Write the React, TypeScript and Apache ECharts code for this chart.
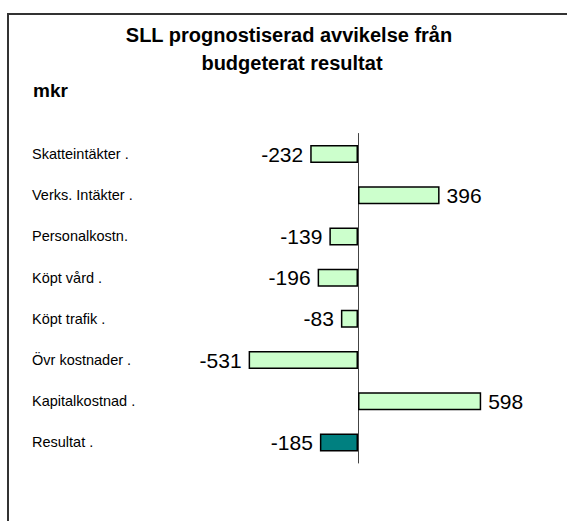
import React, { useEffect, useRef } from "react";
import * as echarts from "echarts";

const categories = [
  "Skatteintäkter .",
  "Verks. Intäkter .",
  "Personalkostn.",
  "Köpt vård .",
  "Köpt trafik .",
  "Övr kostnader .",
  "Kapitalkostnad .",
  "Resultat .",
];
const values = [-232, 396, -139, -196, -83, -531, 598, -185];
const titleLines = ["SLL prognostiserad avvikelse från", "budgeterat resultat"];
const unitLabel = "mkr";

const FONT = "'Liberation Sans', Arial, sans-serif";

export default function App() {
  const ref = useRef<HTMLDivElement>(null);
  useEffect(() => {
    if (!ref.current) return;
    const chart = echarts.init(ref.current, null, { renderer: "svg" });
    const lastIdx = categories.length - 1;
    const baseGraphic: any[] = [
      {
        type: "polyline",
        shape: { points: [[8, 521], [8, 14], [567, 14]] },
        style: { stroke: "#333333", lineWidth: 2, fill: "none" },
        silent: true,
      },
      {
        type: "text",
        x: 289,
        y: 35,
        style: {
          text: titleLines[0],
          font: `bold 20px ${FONT}`,
          fill: "#000",
          textAlign: "center",
          textVerticalAlign: "middle",
        },
      },
      {
        type: "text",
        x: 292,
        y: 63,
        style: {
          text: titleLines[1],
          font: `bold 20px ${FONT}`,
          fill: "#000",
          textAlign: "center",
          textVerticalAlign: "middle",
        },
      },
      {
        type: "text",
        x: 33,
        y: 90,
        style: {
          text: unitLabel,
          font: `bold 19px ${FONT}`,
          fill: "#000",
          textAlign: "left",
          textVerticalAlign: "middle",
        },
      },
    ];
    chart.setOption({
      animation: false,
      backgroundColor: "#ffffff",
      textStyle: { fontFamily: FONT },
      graphic: baseGraphic,
      grid: {
        left: 234.4,
        width: 288.4,
        top: 133.5,
        bottom: 58,
        containLabel: false,
        outerBoundsMode: "none",
      },
      xAxis: {
        type: "value",
        min: -600,
        max: 800,
        show: false,
        splitLine: { show: false },
      },
      yAxis: {
        type: "category",
        data: categories,
        inverse: true,
        axisLine: { show: true, onZero: true, lineStyle: { color: "#444444", width: 1 } },
        axisTick: { show: false },
        axisLabel: { show: false },
      },
      series: [
        {
          type: "bar",
          barWidth: 18,
          data: values.map((v, i) => ({
            value: v,
            itemStyle: {
              color: i === lastIdx ? "#008080" : "#CCFFCC",
              borderColor: "#000",
              borderWidth: 1.5,
            },
            label: {
              show: true,
              position: v < 0 ? "left" : "right",
              distance: 7,
              fontSize: 21,
              color: "#000",
              fontFamily: FONT,
            },
          })),
        },
      ],
    });
    const labelTexts = categories.map((c) => {
      const y = chart.convertToPixel({ yAxisIndex: 0 }, c) as number;
      return {
        type: "text",
        x: 32,
        y,
        style: {
          text: c,
          font: `14.5px ${FONT}`,
          fill: "#000",
          textAlign: "left",
          textVerticalAlign: "middle",
        },
      };
    });
    chart.setOption({ graphic: [...baseGraphic, ...labelTexts] }, { replaceMerge: ["graphic"] });
    return () => chart.dispose();
  }, []);
  return (
    <div
      ref={ref}
      style={{ position: "absolute", left: 0, top: 0, width: 567, height: 521 }}
    />
  );
}
